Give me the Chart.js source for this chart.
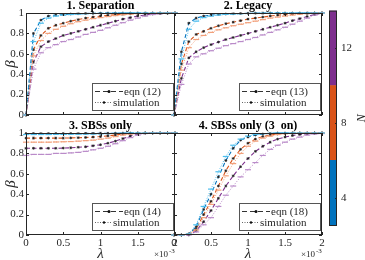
<!DOCTYPE html>
<html>
<head>
<meta charset="utf-8">
<script src="https://cdn.jsdelivr.net/npm/chart.js@4.4.0/dist/chart.umd.min.js"></script>
<style>
  html, body { margin: 0; padding: 0; background: #fff; }
  #wrap { position: relative; width: 365px; height: 260px; overflow: hidden; }
  #wrap canvas { position: absolute; left: 0; top: 0; }
</style>
</head>
<body>
<div id="wrap">
  <canvas id="p1" width="365" height="260"></canvas>
  <canvas id="p2" width="365" height="260"></canvas>
  <canvas id="p3" width="365" height="260"></canvas>
  <canvas id="p4" width="365" height="260"></canvas>
  <canvas id="cb" width="365" height="260"></canvas>
</div>
<script>
// lambda axis (x 10^-3)
const lambda = [0, 0.1, 0.2, 0.3, 0.4, 0.5, 0.6, 0.7, 0.8, 0.9, 1.0, 1.1, 1.2, 1.3, 1.4, 1.5, 1.6, 1.7, 1.8, 1.9, 2.0];
const xTicks = [0, 0.5, 1, 1.5, 2];
const yTicks = [0, 0.2, 0.4, 0.6, 0.8, 1];

// 1. Separation
const sepEqn4  = [0, .80, .93, .97, .98, .985, .99, .993, .995, .997, .998, .999, 1, 1, 1, 1, 1, 1, 1, 1, 1];
const sepSim4  = [0, .72, .90, .95, .97, .98, .985, .99, .993, .995, .997, .998, .999, 1, 1, 1, 1, 1, 1, 1, 1];
const sepEqn8  = [0, .64, .78, .85, .88, .90, .92, .935, .95, .96, .97, .977, .983, .988, .992, .995, .997, .998, .999, 1, 1];
const sepSim8  = [0, .58, .73, .80, .84, .87, .895, .915, .93, .945, .955, .965, .975, .983, .99, .994, .997, .998, .999, 1, 1];
const sepEqn12 = [0, .52, .67, .72, .75, .78, .80, .82, .84, .86, .88, .90, .92, .94, .955, .97, .98, .99, .995, .998, 1];
const sepSim12 = [0, .45, .61, .66, .69, .72, .74, .765, .79, .81, .83, .855, .88, .905, .93, .95, .97, .985, .993, .998, 1];

// 2. Legacy
const legEqn4  = [0, .62, .90, .95, .97, .98, .986, .99, .993, .995, .997, .998, .999, 1, 1, 1, 1, 1, 1, 1, 1];
const legSim4  = [0, .55, .84, .92, .955, .97, .98, .986, .99, .993, .995, .997, .998, .999, 1, 1, 1, 1, 1, 1, 1];
const legEqn8  = [0, .50, .72, .79, .82, .85, .875, .895, .91, .925, .94, .95, .96, .97, .978, .985, .99, .994, .997, .999, 1];
const legSim8  = [0, .44, .66, .74, .78, .81, .835, .855, .875, .89, .905, .92, .935, .95, .96, .97, .98, .988, .994, .998, 1];
const legEqn12 = [0, .36, .56, .62, .66, .69, .715, .74, .76, .78, .80, .82, .84, .86, .88, .90, .925, .945, .965, .985, 1];
const legSim12 = [0, .30, .50, .57, .60, .63, .655, .68, .70, .72, .74, .76, .785, .81, .835, .86, .89, .92, .95, .98, 1];

// 3. SBSs only
const sbsEqn4  = [.995, .995, .995, .995, .995, .995, .995, .995, .996, .996, .997, .997, .998, .999, 1, 1, 1, 1, 1, 1, 1];
const sbsSim4  = [.985, .985, .985, .985, .986, .986, .987, .988, .989, .99, .992, .994, .996, .998, 1, 1, 1, 1, 1, 1, 1];
const sbsEqn8  = [.95, .95, .95, .95, .95, .95, .952, .954, .956, .96, .965, .972, .98, .99, .996, 1, 1, 1, 1, 1, 1];
const sbsSim8  = [.91, .91, .91, .91, .912, .914, .916, .92, .925, .93, .94, .95, .965, .98, .99, .997, 1, 1, 1, 1, 1];
const sbsEqn12 = [.85, .85, .85, .85, .85, .852, .855, .86, .865, .875, .885, .90, .92, .945, .97, .99, 1, 1, 1, 1, 1];
const sbsSim12 = [.78, .79, .79, .79, .80, .80, .805, .81, .82, .835, .85, .87, .895, .925, .955, .98, .995, 1, 1, 1, 1];

// 4. SBSs only (3 on)
const onEqn4  = [0, 0, .01, .08, .25, .40, .57, .73, .85, .93, .96, .98, .99, .995, 1, 1, 1, 1, 1, 1, 1];
const onSim4  = [0, 0, .01, .10, .28, .45, .62, .77, .88, .94, .97, .985, .993, .997, 1, 1, 1, 1, 1, 1, 1];
const onEqn8  = [0, 0, .01, .06, .20, .33, .48, .63, .75, .84, .90, .94, .965, .98, .99, .995, 1, 1, 1, 1, 1];
const onSim8  = [0, 0, .01, .05, .17, .30, .44, .58, .70, .80, .87, .92, .95, .97, .985, .993, .997, 1, 1, 1, 1];
const onEqn12 = [0, 0, 0, .04, .13, .24, .36, .48, .58, .67, .75, .82, .87, .91, .94, .96, .975, .985, .992, .997, 1];
const onSim12 = [0, 0, 0, .03, .10, .17, .28, .39, .48, .57, .64, .71, .78, .84, .88, .91, .94, .96, .98, .99, .995];

// colorbar
const nTicks = [4, 8, 12];
const nBands = [[2.5, 6], [6, 10], [10, 14]];

const dark  = ['#0072BD', '#D95319', '#7E2F8E'];
const light = ['#4DBEEE', '#F2A07B', '#BA8BC9'];
const AX = '#262626';
const SERIF = '"Liberation Serif", "Times New Roman", serif';

function pts(vals) {
  return lambda.map((x, i) => ({ x: x, y: vals[i] }));
}

function eqnSet(vals, k) {
  return {
    data: pts(vals), borderColor: dark[k], borderWidth: 1.1, borderDash: [4, 2.5],
    pointStyle: 'star', pointRadius: 1.4, pointBorderColor: '#222', pointBorderWidth: 0.8,
    fill: false, tension: 0, clip: false
  };
}
function simSet(vals, k) {
  return {
    data: pts(vals), borderColor: light[k], borderWidth: 1, borderDash: [1, 1.5],
    pointStyle: 'line', pointRadius: 3, pointBorderColor: light[k], pointBorderWidth: 1.2,
    fill: false, tension: 0, clip: false
  };
}

const deco = {
  id: 'deco',
  afterDraw(chart, args, o) {
    const ctx = chart.ctx, a = chart.chartArea;
    const xs = chart.scales.x, ys = chart.scales.y;
    ctx.save();
    // inward ticks
    ctx.strokeStyle = AX; ctx.lineWidth = 1;
    ctx.beginPath();
    xTicks.forEach(v => {
      const px = Math.round(xs.getPixelForValue(v)) + 0.5;
      ctx.moveTo(px, a.bottom); ctx.lineTo(px, a.bottom - 3);
      ctx.moveTo(px, a.top); ctx.lineTo(px, a.top + 3);
    });
    yTicks.forEach(v => {
      const py = Math.round(ys.getPixelForValue(v)) + 0.5;
      ctx.moveTo(a.left, py); ctx.lineTo(a.left + 3, py);
      ctx.moveTo(a.right, py); ctx.lineTo(a.right - 3, py);
    });
    ctx.stroke();
    // box
    ctx.strokeStyle = AX;
    ctx.strokeRect(a.left + 0.5, a.top + 0.5, a.right - a.left - 1, a.bottom - a.top - 1);
    // title
    ctx.fillStyle = '#000';
    ctx.font = 'bold 12px ' + SERIF;
    ctx.textAlign = 'center'; ctx.textBaseline = 'middle';
    ctx.fillText(o.title, (a.left + a.right) / 2, a.top - 7);
    // beta
    if (o.yLabel) {
      ctx.save();
      ctx.translate(11, (a.top + a.bottom) / 2);
      ctx.rotate(-Math.PI / 2);
      ctx.font = 'italic 15px ' + SERIF;
      ctx.fillStyle = AX;
      ctx.fillText('\u03B2', 0, 0);
      ctx.restore();
    }
    // lambda and x10^-3
    if (o.xLabel) {
      ctx.fillStyle = AX;
      ctx.font = 'italic 15px ' + SERIF;
      ctx.fillText('\u03BB', (a.left + a.right) / 2, 254);
      ctx.textAlign = 'left';
      ctx.font = '9px ' + SERIF;
      ctx.fillText('\u00D710', a.right - 21, 255);
      ctx.font = '7px ' + SERIF;
      ctx.fillText('-3', a.right - 6, 251);
    }
    // legend box
    const lx = a.right - 83, ly = a.bottom - 32;
    ctx.fillStyle = '#fff';
    ctx.fillRect(lx, ly, 81, 27);
    ctx.strokeStyle = '#555';
    ctx.strokeRect(lx + 0.5, ly + 0.5, 81, 27);
    ctx.strokeStyle = '#333';
    ctx.setLineDash([5, 3]);
    ctx.beginPath(); ctx.moveTo(lx + 3, ly + 8.5); ctx.lineTo(lx + 31, ly + 8.5); ctx.stroke();
    ctx.setLineDash([1, 1.5]);
    ctx.strokeStyle = '#666';
    ctx.beginPath(); ctx.moveTo(lx + 3, ly + 19.5); ctx.lineTo(lx + 20, ly + 19.5); ctx.stroke();
    ctx.setLineDash([]);
    ctx.fillStyle = '#111';
    ctx.beginPath(); ctx.arc(lx + 17, ly + 8.5, 1.5, 0, Math.PI * 2); ctx.fill();
    ctx.beginPath(); ctx.arc(lx + 12, ly + 19.5, 1.2, 0, Math.PI * 2); ctx.fill();
    ctx.fillStyle = AX;
    ctx.font = '11px ' + SERIF;
    ctx.textAlign = 'left'; ctx.textBaseline = 'middle';
    ctx.fillText(o.eqn, lx + 32, ly + 9);
    ctx.fillText('simulation', lx + 21, ly + 20);
    ctx.restore();
  }
};

function makePanel(id, sets, o) {
  const datasets = [];
  [0, 1, 2].forEach(k => datasets.push(simSet(sets[k * 2 + 1], k)));
  [0, 1, 2].forEach(k => datasets.push(eqnSet(sets[k * 2], k)));
  new Chart(document.getElementById(id), {
    type: 'line',
    data: { datasets: datasets },
    options: {
      responsive: false, animation: false, devicePixelRatio: 1,
      layout: { padding: o.pad },
      plugins: { legend: { display: false }, tooltip: { enabled: false }, deco: o },
      scales: {
        x: {
          type: 'linear', min: 0, max: 2,
          afterBuildTicks: s => { s.ticks = xTicks.map(v => ({ value: v })); },
          afterFit: s => { s.height = o.xLabel ? 25 : 0; },
          grid: { drawOnChartArea: false, drawTicks: false },
          border: { display: false },
          ticks: { display: !!o.xLabel, padding: 2, color: AX, font: { family: SERIF, size: 11 }, maxRotation: 0,
                   callback: v => String(v) }
        },
        y: {
          min: 0, max: 1,
          afterBuildTicks: s => { s.ticks = yTicks.map(v => ({ value: v })); },
          afterFit: s => { s.width = o.yLabel ? 26 : 0; },
          grid: { drawOnChartArea: false, drawTicks: false },
          border: { display: false },
          ticks: { display: !!o.yLabel, padding: 2, color: AX, font: { family: SERIF, size: 11 },
                   callback: v => String(Math.round(v * 10) / 10) }
        }
      }
    },
    plugins: [deco]
  });
}

makePanel('p1', [sepEqn4, sepSim4, sepEqn8, sepSim8, sepEqn12, sepSim12],
  { title: '1. Separation', eqn: 'eqn (12)', yLabel: true, xLabel: false,
    pad: { left: 0, right: 190, top: 13, bottom: 145 } });
makePanel('p2', [legEqn4, legSim4, legEqn8, legSim8, legEqn12, legSim12],
  { title: '2. Legacy', eqn: 'eqn (13)', yLabel: false, xLabel: false,
    pad: { left: 174, right: 43, top: 13, bottom: 145 } });
makePanel('p3', [sbsEqn4, sbsSim4, sbsEqn8, sbsSim8, sbsEqn12, sbsSim12],
  { title: '3. SBSs only', eqn: 'eqn (14)', yLabel: true, xLabel: true,
    pad: { left: 0, right: 190, top: 133, bottom: 0 } });
makePanel('p4', [onEqn4, onSim4, onEqn8, onSim8, onEqn12, onSim12],
  { title: '4. SBSs only (3  on)', eqn: 'eqn (18)', yLabel: false, xLabel: true,
    pad: { left: 174, right: 43, top: 133, bottom: 0 } });

// colorbar
const cbDeco = {
  id: 'cbDeco',
  afterDraw(chart) {
    const ctx = chart.ctx, a = chart.chartArea, ys = chart.scales.y;
    ctx.save();
    ctx.strokeStyle = AX; ctx.lineWidth = 1;
    ctx.beginPath();
    nTicks.forEach(v => {
      const py = Math.round(ys.getPixelForValue(v)) + 0.5;
      ctx.moveTo(a.right, py); ctx.lineTo(a.right - 2, py);
    });
    ctx.stroke();
    ctx.strokeRect(a.left + 0.5, a.top + 0.5, a.right - a.left - 1, a.bottom - a.top - 1);
    ctx.translate(362, (a.top + a.bottom) / 2);
    ctx.rotate(-Math.PI / 2);
    ctx.fillStyle = AX;
    ctx.font = 'italic 12px ' + SERIF;
    ctx.textAlign = 'center'; ctx.textBaseline = 'middle';
    ctx.fillText('N', 0, 0);
    ctx.restore();
  }
};

new Chart(document.getElementById('cb'), {
  type: 'bar',
  data: {
    labels: ['N'],
    datasets: nBands.map((b, k) => ({
      data: [b], backgroundColor: dark[k], borderWidth: 0,
      barPercentage: 1, categoryPercentage: 1, grouped: false
    }))
  },
  options: {
    responsive: false, animation: false, devicePixelRatio: 1,
    layout: { padding: { left: 329, right: 8, top: 10, bottom: 34 } },
    plugins: { legend: { display: false }, tooltip: { enabled: false } },
    scales: {
      x: { display: false },
      y: {
        position: 'right', min: 2.5, max: 14,
        afterBuildTicks: s => { s.ticks = nTicks.map(v => ({ value: v })); },
        afterFit: s => { s.width = 20; },
        grid: { drawOnChartArea: false, drawTicks: false },
        border: { display: false },
        ticks: { padding: 4, color: AX, font: { family: SERIF, size: 11 } }
      }
    }
  },
  plugins: [cbDeco]
});
</script>
</body>
</html>
